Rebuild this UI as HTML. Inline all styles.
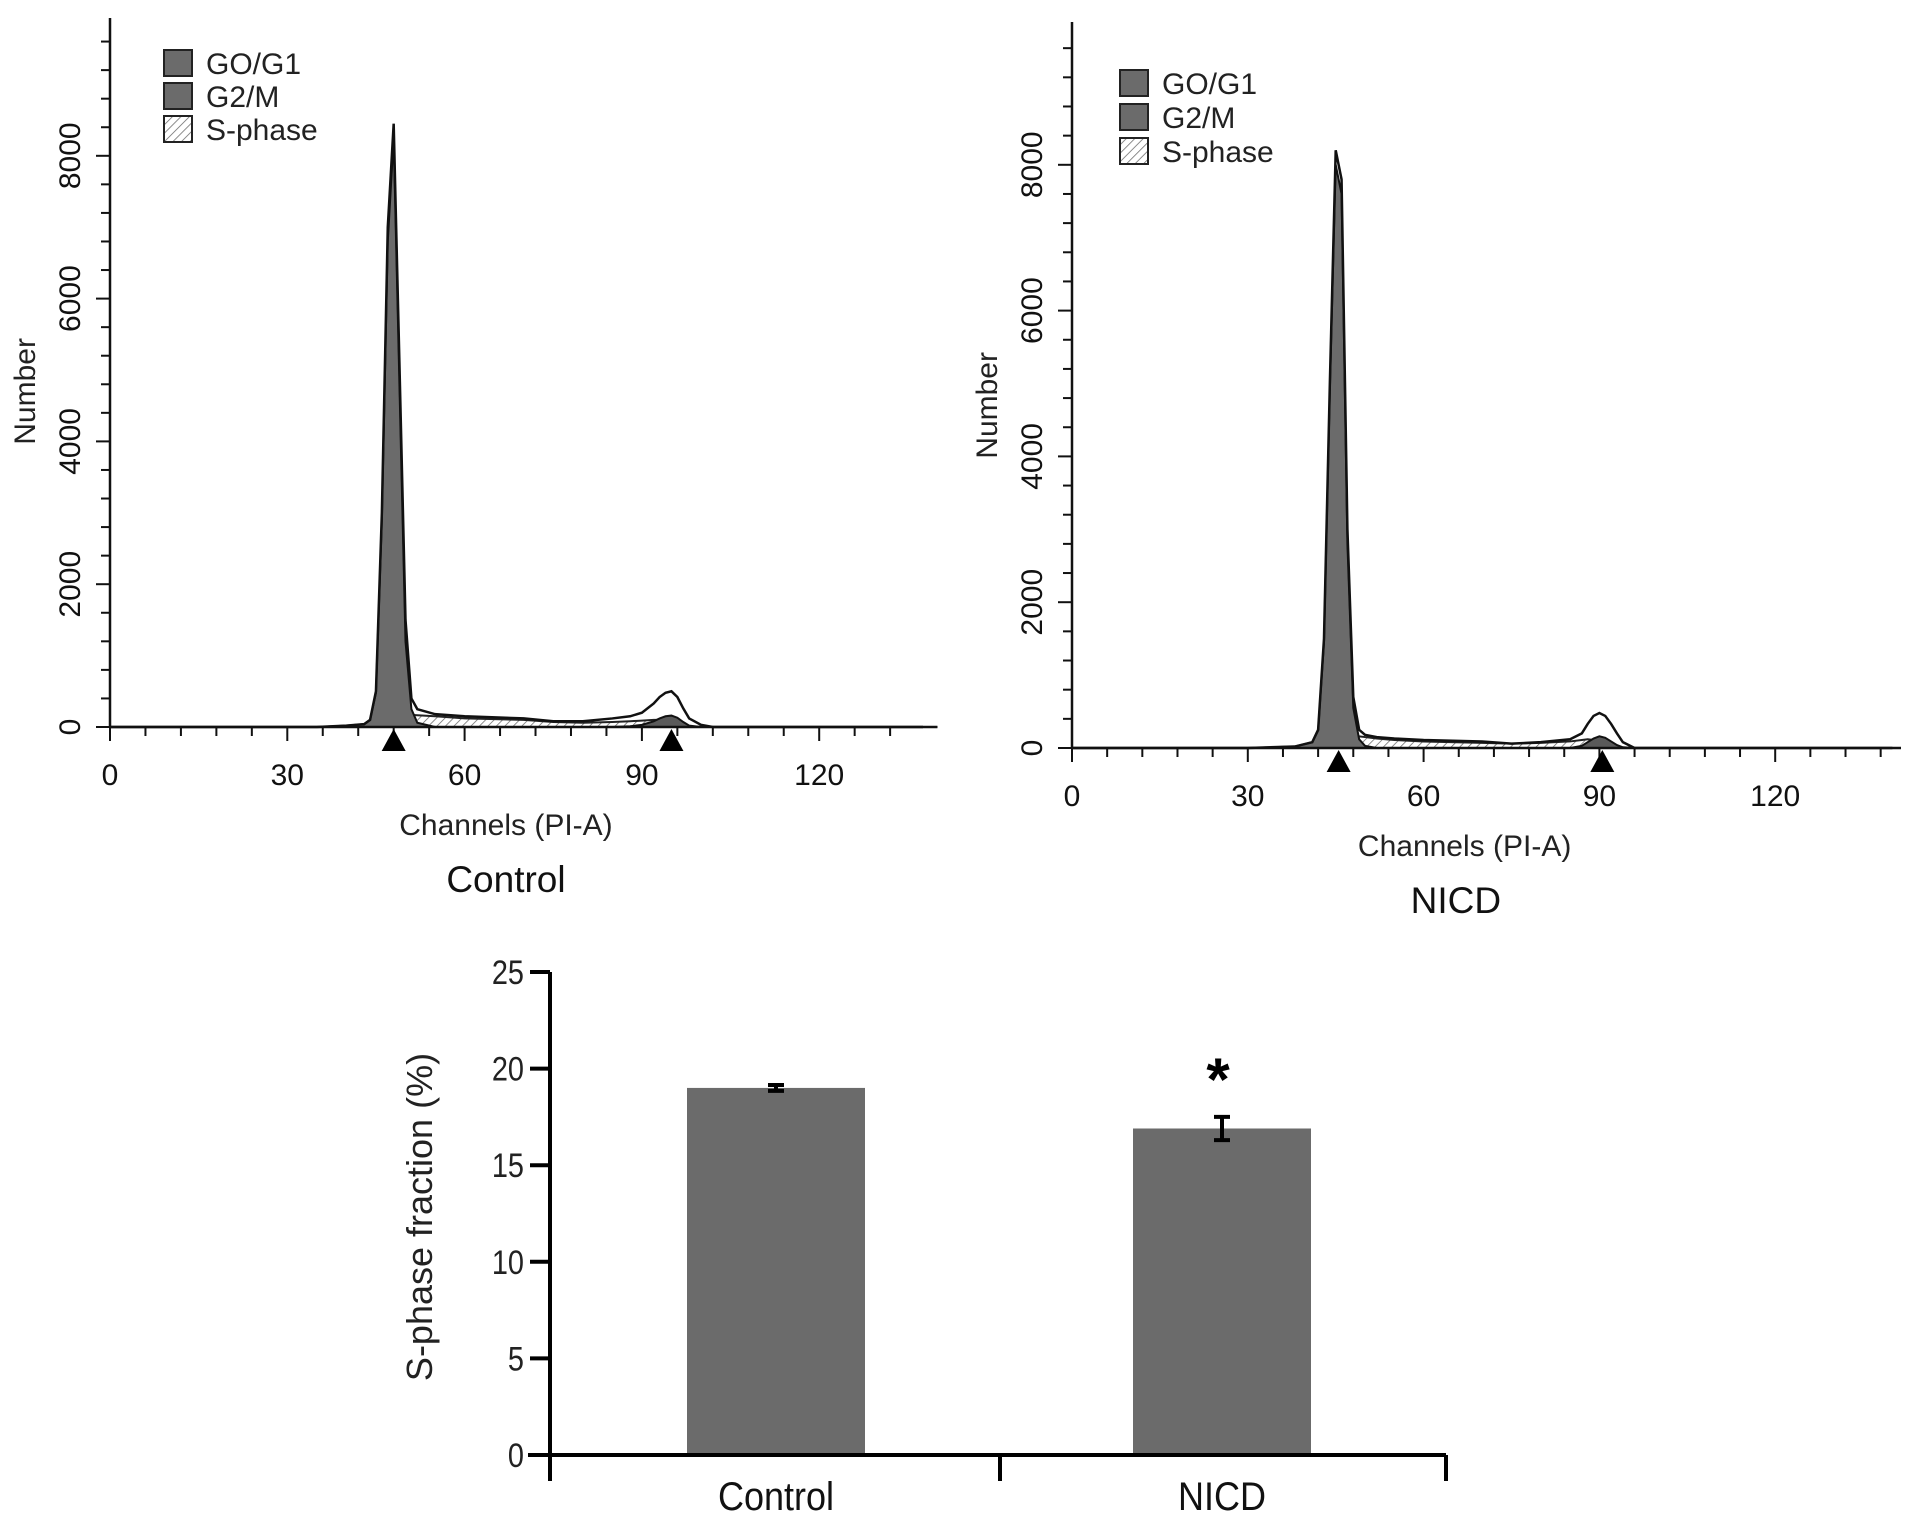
<!DOCTYPE html>
<html><head><meta charset="utf-8">
<style>
html,body{margin:0;padding:0;background:#fff;overflow:hidden;}
svg{display:block;font-family:"Liberation Sans",Arial,sans-serif;}
</style></head>
<body>
<svg id="fig" width="1913" height="1518" viewBox="0 0 1913 1518" xmlns="http://www.w3.org/2000/svg">
<defs>
<pattern id="hatch" patternUnits="userSpaceOnUse" width="6" height="6" patternTransform="rotate(45)">
<rect width="6" height="6" fill="#fff"/><line x1="0" y1="0" x2="0" y2="6" stroke="#666" stroke-width="1.5"/>
</pattern>
</defs>
</svg>
<script>
// ---- Control histogram data ----
const ctrlChannels = [0,35,40,43,44,45,46,47,48,49,50,51,52,55,60,70,75,80,85,88,90,92,93,94,95,96,97,98,100,102,140];
const ctrlTotal    = [0,0,20,40,100,500,3000,7000,8450,5000,1500,400,250,180,150,120,80,80,120,150,200,330,420,480,500,420,260,120,30,0,0];
const ctrlG1       = [0,0,20,40,100,480,2900,6800,8250,4700,1200,250,60,0,0,0,0,0,0,0,0,0,0,0,0,0,0,0,0,0,0];
const ctrlG2       = [0,0,0,0,0,0,0,0,0,0,0,0,0,0,0,0,0,0,0,10,30,80,120,150,160,130,70,20,0,0,0];
const ctrlS        = [0,0,0,0,0,20,60,100,140,160,170,170,165,150,120,100,70,60,70,80,90,100,100,90,70,40,20,5,0,0,0];
const ctrlMarkers  = [48,95];
// ---- NICD histogram data ----
const nicdChannels = [0,30,38,41,42,43,44,45,46,47,48,49,50,52,55,60,70,75,80,85,87,88,89,90,91,92,93,94,96,140];
const nicdTotal    = [0,0,20,80,250,1500,5000,8200,7800,3000,700,250,180,150,130,110,90,60,80,120,200,330,440,480,440,330,200,80,0,0];
const nicdG1       = [0,0,20,80,240,1450,4900,8000,7600,2800,550,120,30,0,0,0,0,0,0,0,0,0,0,0,0,0,0,0,0,0];
const nicdG2       = [0,0,0,0,0,0,0,0,0,0,0,0,0,0,0,0,0,0,0,0,30,80,130,160,140,90,40,10,0,0];
const nicdS        = [0,0,0,0,0,20,60,120,160,170,170,160,150,130,110,90,70,60,70,90,110,120,110,90,60,30,10,0,0,0];
const nicdMarkers  = [45.5,90.5];
// ---- axis ticks ----
const xTickLabels = [0,30,60,90,120];
const yTickLabels = [0,2000,4000,6000,8000];
// ---- bar chart data ----
const barCategories = ["Control","NICD"];
const barValues = [19.0,16.9];
const barErrors = [0.15,0.6];
const barTicks = [0,5,10,15,20,25];

const NS="http://www.w3.org/2000/svg";
const svg=document.getElementById('fig');
function mk(tag,attrs,parent){const e=document.createElementNS(NS,tag);for(const k in attrs)e.setAttribute(k,attrs[k]);(parent||svg).appendChild(e);return e;}

function histogram(cfg){
  const g=mk('g',{});
  
  
  const xs=c=>cfg.x0+c*cfg.pxPerCh;
  const ys=v=>cfg.y0-v*cfg.pxPerUnit;
  const poly=(arr)=>{let d='M'+xs(cfg.ch[0])+','+ys(0);cfg.ch.forEach((c,i)=>{d+=' L'+xs(c)+','+ys(arr[i]);});d+=' L'+xs(cfg.ch[cfg.ch.length-1])+','+ys(0)+' Z';return d;};
  const s=mk('path',{d:poly(cfg.S),fill:'url(#hatch)',stroke:'#222','stroke-width':2},g);
  
  
  const g1=mk('path',{d:poly(cfg.G1),fill:'#6b6b6b',stroke:'#111','stroke-width':2},g);
  
  
  const g2=mk('path',{d:poly(cfg.G2),fill:'#5a5a5a',stroke:'#111','stroke-width':2},g);
  
  
  let d='';cfg.ch.forEach((c,i)=>{d+=(i?' L':'M')+xs(c)+','+ys(cfg.T[i]);});
  const t=mk('path',{d:d,fill:'none',stroke:'#111','stroke-width':2.5},g);
  
  
  const ya=mk('line',{x1:cfg.x0,y1:cfg.y0,x2:cfg.x0,y2:cfg.yTop,stroke:'#111','stroke-width':2.5},g);
  
  
  const xa=mk('line',{x1:cfg.x0,y1:cfg.y0,x2:cfg.xEnd,y2:cfg.y0,stroke:'#111','stroke-width':2.5},g);
  
  
  for(let c=0;xs(c)<=cfg.xEnd;c+=6){const big=c%30===0;mk('line',{x1:xs(c),y1:cfg.y0,x2:xs(c),y2:cfg.y0+(big?14:9),stroke:'#111','stroke-width':2},g);}
  for(let v=0;ys(v)>=cfg.yTop;v+=400){const big=v%2000===0;mk('line',{x1:cfg.x0,y1:ys(v),x2:cfg.x0-(big?14:9),y2:ys(v),stroke:'#111','stroke-width':2},g);}
  xTickLabels.forEach(v=>{const e=mk('text',{x:xs(v),y:cfg.y0+58,'font-size':30,'text-anchor':'middle',fill:'#111'},g);e.textContent=v;
    
    });
  yTickLabels.forEach(v=>{const e=mk('text',{x:0,y:0,'font-size':30,'text-anchor':'middle',fill:'#111',transform:`translate(${cfg.x0-30},${ys(v)}) rotate(-90)`},g);e.textContent=v;
    
    });
  cfg.markers.forEach(m=>{const p=mk('path',{d:`M${xs(m)},${cfg.y0+2} L${xs(m)-12},${cfg.y0+24} L${xs(m)+12},${cfg.y0+24} Z`,fill:'#000'},g);
    
    });
  const xt=mk('text',{x:xs(67),y:cfg.y0+108,'font-size':30,'text-anchor':'middle',fill:'#222'},g);xt.textContent='Channels (PI-A)';
  
  
  const yt=mk('text',{x:0,y:0,'font-size':30,'text-anchor':'middle',fill:'#222',transform:`translate(${cfg.x0-75},${ys(4700)}) rotate(-90)`},g);yt.textContent='Number';
  
  
  const ti=mk('text',{x:xs(cfg.titleCh),y:cfg.y0+165,'font-size':37,'text-anchor':'middle',fill:'#111'},g);ti.textContent=cfg.title;
  
  
  const lg=[['GO/G1','#6b6b6b'],['G2/M','#6b6b6b'],['S-phase','url(#hatch)']];
  lg.forEach((l,i)=>{const yy=cfg.legY+i*cfg.legStep;
    const r=mk('rect',{x:cfg.legX,y:yy,width:28,height:26,fill:l[1],stroke:'#222','stroke-width':2},g);
    
    
    const tx=mk('text',{x:cfg.legX+42,y:yy+24,'font-size':30,fill:'#222'},g);tx.textContent=l[0];
    
    });
}
histogram({name:'control-histogram',title:'Control',titleCh:67,x0:110,y0:727,xEnd:923,yTop:18,pxPerCh:5.91,pxPerUnit:0.0714,ch:ctrlChannels,T:ctrlTotal,G1:ctrlG1,G2:ctrlG2,S:ctrlS,markers:ctrlMarkers,legX:164,legY:50,legStep:33});
histogram({name:'nicd-histogram',title:'NICD',titleCh:65.5,x0:1072,y0:748,xEnd:1901,yTop:22,pxPerCh:5.86,pxPerUnit:0.0729,ch:nicdChannels,T:nicdTotal,G1:nicdG1,G2:nicdG2,S:nicdS,markers:nicdMarkers,legX:1120,legY:70,legStep:34});

// ---- bar chart ----
(function(){
  const g=mk('g',{});
  
  
  const x0=550,y0=1455,yTop=972,xEnd=1446;
  const ys=v=>y0-(v/25)*(y0-yTop);
  const centers=[776,1222], bw=178;
  barValues.forEach((v,i)=>{
    const r=mk('rect',{x:centers[i]-bw/2,y:ys(v),width:bw,height:y0-ys(v),fill:'#6b6b6b'},g);
    
    
    const e=barErrors[i];
    const eb=mk('path',{d:`M${centers[i]},${ys(v+e)} L${centers[i]},${ys(v-e)} M${centers[i]-8},${ys(v+e)} L${centers[i]+8},${ys(v+e)} M${centers[i]-8},${ys(v-e)} L${centers[i]+8},${ys(v-e)}`,stroke:'#000','stroke-width':4,fill:'none'},g);
    
    
    const lb=mk('text',{x:0,y:0,'font-size':40,'text-anchor':'middle',fill:'#111',transform:`translate(${centers[i]},1510) scale(0.9,1)`},g);lb.textContent=barCategories[i];
    
    
  });
  const star=mk('text',{x:1218,y:1100,'font-size':60,'font-weight':'bold','text-anchor':'middle',fill:'#000'},g);star.textContent='*';
  
  
  const ya=mk('line',{x1:x0,y1:y0,x2:x0,y2:yTop,stroke:'#000','stroke-width':4},g);
  
  
  const xa=mk('line',{x1:528,y1:y0,x2:xEnd,y2:y0,stroke:'#000','stroke-width':4},g);
  
  
  [x0,1000,xEnd].forEach(x=>mk('line',{x1:x,y1:y0,x2:x,y2:y0+26,stroke:'#000','stroke-width':4},g));
  barTicks.forEach(v=>{mk('line',{x1:x0,y1:ys(v),x2:x0-20,y2:ys(v),stroke:'#000','stroke-width':4},g);
    const t=mk('text',{x:0,y:0,'font-size':34,'text-anchor':'end',fill:'#222',transform:`translate(${x0-26},${ys(v)+12}) scale(0.85,1)`},g);t.textContent=v;
    
    });
  const yt=mk('text',{x:0,y:0,'font-size':36,'text-anchor':'middle',fill:'#222',transform:`translate(${432},${1217}) rotate(-90)`},g);yt.textContent='S-phase fraction (%)';
  
  
})();
</script>
</body></html>
